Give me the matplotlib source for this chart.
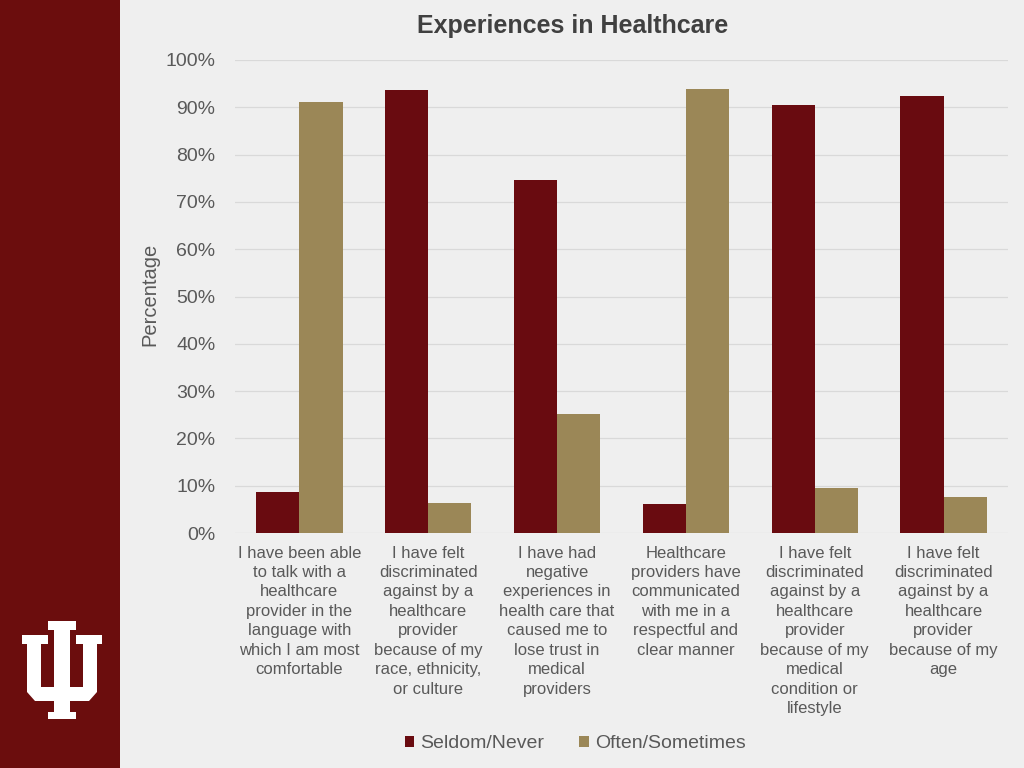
import matplotlib.pyplot as plt
import numpy as np
from matplotlib.patches import Polygon, Rectangle

categories = [
    "I have been able\nto talk with a\nhealthcare\nprovider in the\nlanguage with\nwhich I am most\ncomfortable",
    "I have felt\ndiscriminated\nagainst by a\nhealthcare\nprovider\nbecause of my\nrace, ethnicity,\nor culture",
    "I have had\nnegative\nexperiences in\nhealth care that\ncaused me to\nlose trust in\nmedical\nproviders",
    "Healthcare\nproviders have\ncommunicated\nwith me in a\nrespectful and\nclear manner",
    "I have felt\ndiscriminated\nagainst by a\nhealthcare\nprovider\nbecause of my\nmedical\ncondition or\nlifestyle",
    "I have felt\ndiscriminated\nagainst by a\nhealthcare\nprovider\nbecause of my\nage",
]
seldom_never = [8.7, 93.7, 74.6, 6.1, 90.5, 92.4]
often_sometimes = [91.1, 6.3, 25.2, 93.9, 9.5, 7.6]

BG = "#efefef"
CRIMSON = "#690b10"
TAN = "#9b8757"
SIDEBAR = "#6b0d0d"
GREY = "#595959"

plt.rcParams["font.family"] = ["Liberation Sans", "DejaVu Sans"]

fig = plt.figure(figsize=(10.24, 7.68), dpi=100, facecolor=BG)

# sidebar with IU logo
fig.patches.append(Rectangle((0, 0), 120 / 1024, 1, transform=fig.transFigure,
                             facecolor=SIDEBAR, edgecolor="none", zorder=0))
c = 62
logo_px = [(c-14, 621), (c+14, 621), (c+14, 630), (c+8, 630), (c+8, 687), (c+21, 687),
           (c+21, 644), (c+14, 644), (c+14, 635), (c+40, 635), (c+40, 644), (c+35, 644),
           (c+35, 692), (c+27, 701), (c+8, 701), (c+8, 712), (c+14, 712), (c+14, 719),
           (c-14, 719), (c-14, 712), (c-8, 712), (c-8, 701), (c-27, 701), (c-35, 692),
           (c-35, 644), (c-40, 644), (c-40, 635), (c-14, 635), (c-14, 644), (c-21, 644),
           (c-21, 687), (c-8, 687), (c-8, 630), (c-14, 630)]
logo = [(x / 1024, 1 - y / 768) for x, y in logo_px]
fig.patches.append(Polygon(logo, closed=True, transform=fig.transFigure,
                           facecolor="white", edgecolor="none", zorder=1))

ax = fig.add_axes([235 / 1024, 1 - 533 / 768, 773 / 1024, 473 / 768])
ax.set_facecolor(BG)

x = np.arange(len(categories))
w = 0.335
b1 = ax.bar(x - w / 2, seldom_never, w, color=CRIMSON, label="Seldom/Never", zorder=3)
b2 = ax.bar(x + w / 2, often_sometimes, w, color=TAN, label="Often/Sometimes", zorder=3)

ax.set_xlim(-0.5, len(categories) - 0.5)
ax.set_ylim(0, 100)
ax.set_yticks(range(0, 101, 10))
ax.set_yticklabels([f"{v}%" for v in range(0, 101, 10)], fontsize=14, color=GREY)
ax.set_xticks(x)
ax.set_xticklabels(categories, fontsize=12, color=GREY, linespacing=1.37)
ax.tick_params(length=0)
ax.tick_params(axis="y", pad=14)
ax.tick_params(axis="x", pad=9)
ax.grid(axis="y", color="#d9d9d9", linewidth=0.9, zorder=0)
for s in ax.spines.values():
    s.set_visible(False)

fig.text(573 / 1024, 1 - 26 / 768, "Experiences in Healthcare", ha="center", va="center",
         fontsize=18, fontweight="bold", color="#404040")
fig.text(150 / 1024, 1 - 294 / 768, "Percentage", ha="center", va="center",
         rotation=90, fontsize=14.5, color=GREY)

leg = fig.legend(handles=[b1, b2], loc="center", bbox_to_anchor=(575 / 1024, 1 - 744 / 768),
                 ncol=2, frameon=False, fontsize=14, handlelength=0.5, handleheight=0.5,
                 handletextpad=0.3, columnspacing=1.8, labelcolor=GREY)

fig.savefig("out.png", dpi=100, facecolor=BG)
